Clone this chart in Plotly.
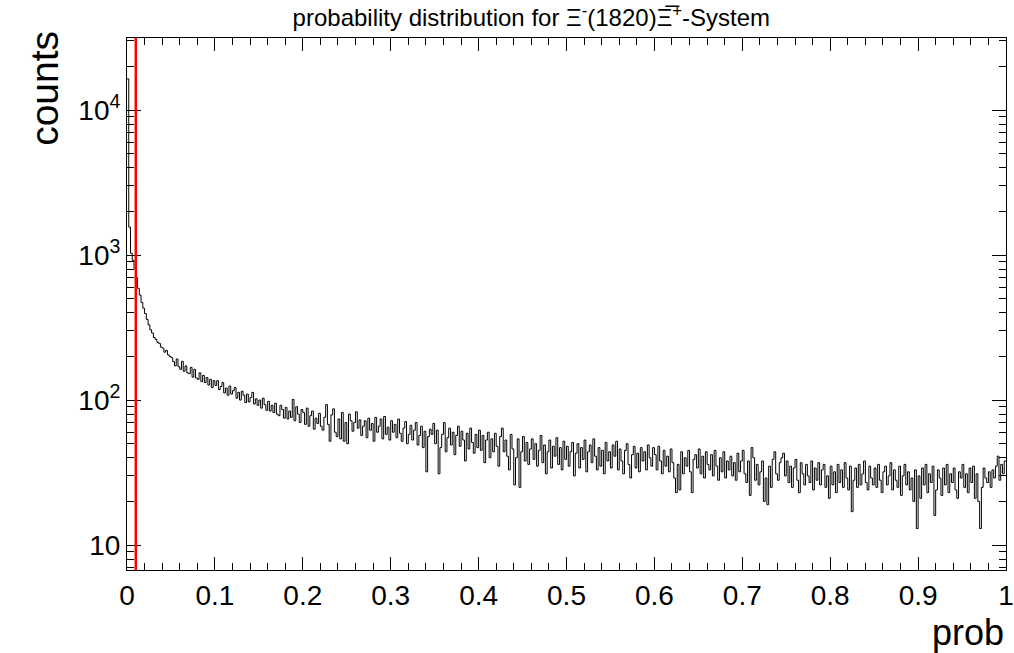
import numpy as np
import plotly.graph_objects as go

# histogram: 500 bins in [0, 1]
x_min, x_max, n_bins = 0.0, 1.0, 500
counts = [
    16400, 1560, 1030, 920, 810, 700, 590, 530, 470, 430, 395, 360, 330, 305, 290, 270, 262, 250, 246, 232, 228, 214, 220, 205, 200,
    196, 184, 172, 192, 170, 163, 185, 158, 172, 154, 152, 168, 144, 163, 142, 139, 154, 134, 148, 132, 143, 127, 139, 122, 136,
    126, 136, 118, 124, 132, 112, 121, 108, 125, 110, 116, 122, 103, 113, 100, 115, 108, 96, 110, 97, 104, 113, 94, 102, 92,
    100, 88, 103, 93, 85, 98, 84, 92, 82, 95, 80, 78, 92, 86, 75, 89, 74, 84, 76, 101, 72, 90, 80, 70, 86,
    82, 68, 88, 66, 78, 84, 63, 75, 69, 81, 66, 62, 76, 93, 68, 52, 79, 87, 60, 56, 74, 54, 82, 52, 70,
    50, 80, 72, 61, 70, 83, 64, 73, 57, 66, 72, 55, 75, 62, 69, 52, 76, 60, 66, 74, 54, 77, 58, 65, 53,
    72, 60, 68, 55, 74, 59, 52, 64, 71, 50, 58, 67, 53, 62, 70, 49, 57, 66, 47, 61, 32, 56, 63, 58, 69,
    50, 62, 31, 47, 58, 70, 44, 55, 64, 49, 60, 42, 57, 66, 48, 61, 53, 38, 59, 46, 64, 51, 43, 58, 47,
    62, 45, 57, 37, 53, 60, 40, 54, 44, 59, 48, 35, 56, 64, 44, 53, 41, 33, 58, 46, 26, 40, 54, 25, 44,
    56, 38, 51, 36, 46, 54, 39, 50, 35, 45, 57, 37, 49, 31, 44, 53, 34, 48, 41, 55, 36, 47, 33, 52, 39,
    48, 35, 44, 51, 30, 43, 50, 34, 47, 39, 53, 32, 44, 49, 37, 54, 41, 33, 47, 35, 45, 31, 51, 38, 44,
    34, 49, 41, 52, 33, 46, 38, 31, 45, 50, 36, 29, 42, 48, 34, 43, 32, 47, 38, 44, 33, 49, 40, 35, 47,
    42, 33, 48, 38, 31, 45, 35, 41, 32, 46, 37, 29, 23, 36, 24, 44, 31, 40, 35, 45, 32, 23, 39, 42, 34,
    46, 31, 41, 29, 44, 36, 33, 42, 30, 45, 35, 28, 40, 32, 44, 29, 38, 33, 41, 30, 37, 28, 43, 32, 38,
    45, 31, 27, 38, 22, 47, 40, 28, 36, 26, 32, 38, 20, 29, 19, 35, 25, 39, 44, 31, 28, 37, 40, 43, 30,
    38, 27, 35, 25, 34, 39, 28, 23, 37, 31, 26, 36, 30, 27, 38, 24, 34, 28, 37, 26, 33, 36, 25, 30, 21,
    35, 26, 32, 23, 36, 27, 33, 25, 37, 29, 24, 35, 17, 28, 34, 25, 36, 26, 31, 38, 27, 24, 35, 29, 26,
    34, 25, 36, 28, 23, 32, 35, 26, 30, 37, 24, 33, 28, 25, 35, 22, 30, 36, 26, 32, 24, 29, 20, 33, 13,
    30, 21, 34, 26, 36, 23, 31, 27, 35, 16, 24, 33, 29, 22, 34, 26, 36, 23, 31, 27, 34, 24, 21, 32, 29,
    36, 25, 31, 23, 34, 27, 35, 21, 31, 20, 13, 25, 34, 29, 27, 32, 25, 33, 29, 35, 41, 28, 36, 31, 38,
]
cut_value = 0.01

x_ticks = [0, 0.1, 0.2, 0.3, 0.4, 0.5, 0.6, 0.7, 0.8, 0.9, 1]
x_tick_text = ["0", "0.1", "0.2", "0.3", "0.4", "0.5", "0.6", "0.7", "0.8", "0.9", "1"]
y_ticks = [10, 100, 1000, 10000]
y_tick_text = ["10", "10<sup>2</sup>", "10<sup>3</sup>", "10<sup>4</sup>"]

title_text = "probability distribution for Ξ<sup>-</sup>(1820)Ξ\u0305<sup>+</sup>-System"

edges = np.linspace(x_min, x_max, n_bins + 1)
xs = list(edges)
ys = list(counts) + [counts[-1]]

y_lo, y_hi = 0.828, 4.497
minor_y = [k * 10 ** d for d in range(0, 5) for k in range(2, 10)
           if y_lo <= np.log10(k * 10 ** d) <= y_hi]

FONT = "Liberation Sans, Arial, Helvetica, sans-serif"

fig = go.Figure()
fig.add_trace(go.Scatter(
    x=xs, y=ys, mode="lines", line=dict(shape="hv", color="black", width=1),
    hoverinfo="skip", showlegend=False,
))

fig.add_shape(type="line", xref="x", yref="y domain", x0=cut_value, x1=cut_value,
              y0=0, y1=1, line=dict(color="#ff0000", width=2.5))

fig.update_layout(
    width=1014, height=653,
    margin=dict(l=127, r=8, t=38, b=83, autoexpand=False),
    paper_bgcolor="white", plot_bgcolor="white",
    font=dict(family=FONT, color="black"),
    showlegend=False,
    title=dict(text=title_text, x=0.524, xanchor="center", y=0.973, yanchor="middle",
               font=dict(size=24, family=FONT)),
    annotations=[
        dict(text="prob", xref="paper", yref="paper", x=1.0, y=-0.117,
             xanchor="right", yanchor="middle", showarrow=False,
             font=dict(size=36, family=FONT)),
        dict(text="counts", xref="paper", yref="paper", x=-0.094, y=1.017,
             xanchor="center", yanchor="top", textangle=-90, showarrow=False,
             font=dict(size=39, family=FONT)),
    ],
)

fig.update_xaxes(
    range=[x_min, x_max], tickmode="array", tickvals=x_ticks, ticktext=x_tick_text,
    ticks="inside", ticklen=13, tickwidth=1, tickcolor="black",
    minor=dict(ticks="inside", ticklen=7, dtick=0.02, tickcolor="black", showgrid=False),
    showline=True, linecolor="black", linewidth=1, mirror="ticks",
    showgrid=False, zeroline=False, automargin=False,
    tickfont=dict(size=28, family=FONT),
)
fig.update_yaxes(
    type="log", range=[y_lo, y_hi], tickmode="array", tickvals=y_ticks, ticktext=y_tick_text,
    ticks="inside", ticklen=14, tickwidth=1, tickcolor="black",
    minor=dict(ticks="inside", ticklen=7, tickmode="array", tickvals=minor_y,
               tickcolor="black", showgrid=False),
    showline=True, linecolor="black", linewidth=1, mirror="ticks",
    showgrid=False, zeroline=False, automargin=False,
    tickfont=dict(size=28, family=FONT),
)

fig.write_html(
    "out.html",
    config={"displayModeBar": False, "staticPlot": True},
    post_script="document.body.style.margin='0px';document.body.style.overflow='hidden';",
)
